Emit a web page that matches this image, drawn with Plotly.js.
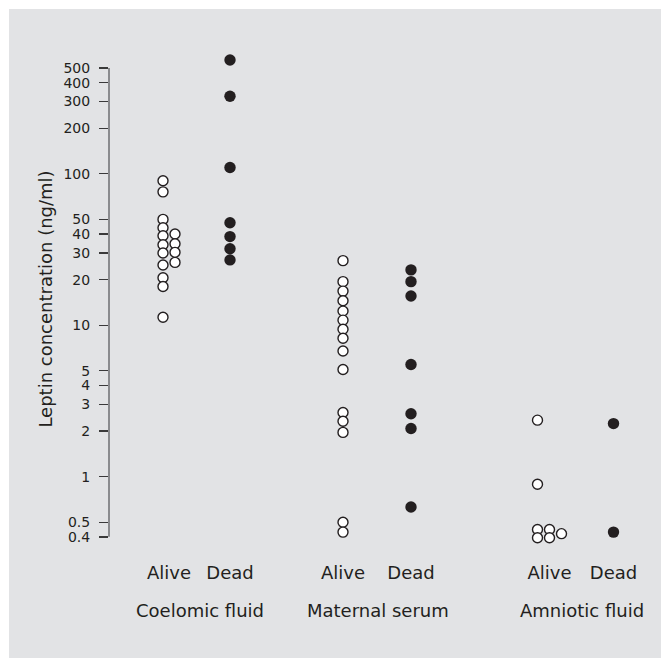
<!DOCTYPE html>
<html>
<head>
<meta charset="utf-8">
<script src="https://cdn.plot.ly/plotly-3.0.1.min.js"></script>
<style>
  html, body { margin: 0; padding: 0; background: #ffffff; width: 661px; height: 658px; overflow: hidden; }
  #chart { position: absolute; left: 9px; top: 9px; width: 652px; height: 649px; }
</style>
</head>
<body>
<div id="chart"></div>
<script>
// ---- Data ----
const fluids = ["Coelomic fluid", "Maternal serum", "Amniotic fluid"];
const outcomes = ["Alive", "Dead"];

const coelomicAlive    = [90, 76, 50, 44, 39, 34, 30, 25, 20.6, 18, 11.3, 40, 34.5, 30.3, 26];
const coelomicAliveCol = [-0.5, -0.5, -0.5, -0.5, -0.5, -0.5, -0.5, -0.5, -0.5, -0.5, -0.5, 0.5, 0.5, 0.5, 0.5];
const coelomicDead     = [565, 325, 110, 47.5, 38.5, 32, 27];

const maternalAlive    = [26.7, 19.4, 16.8, 14.5, 12.4, 10.8, 9.4, 8.2, 6.75, 5.1, 2.65, 2.32, 1.96, 0.5, 0.43];
const maternalDead     = [23.2, 19.4, 15.6, 5.5, 2.6, 2.08, 0.63];

const amnioticAlive    = [2.36, 0.89, 0.447, 0.395, 0.447, 0.395, 0.42];
const amnioticAliveCol = [-1, -1, -1, -1, 0, 0, 1];
const amnioticDead     = [2.24, 0.43];

const yTickVals = [0.4, 0.5, 1, 2, 3, 4, 5, 10, 20, 30, 40, 50, 100, 200, 300, 400, 500];
const yTickText = ["0.4", "0.5", "1", "2", "3", "4", "5", "10", "20", "30", "40", "50", "100", "200", "300", "400", "500"];
const axisMin = 0.4, axisMax = 500;

// ---- Layout positions (horizontal slots) ----
const slotPos = [[169, 230], [343, 411], [549.5, 613.5]];
const groupLabelPos = [199.7, 377.5, 582];
const colSpacing = 12;

const ink = "#231f20";
const bg = "#e2e3e5";
const font = "DejaVu Sans, Liberation Sans, Arial, sans-serif";

function xs(slot, values, cols) {
  return values.map((v, i) => slot + (cols ? cols[i] : 0) * colSpacing);
}

const series = [
  {vals: coelomicAlive, cols: coelomicAliveCol, g: 0, o: 0},
  {vals: coelomicDead,  cols: null,             g: 0, o: 1},
  {vals: maternalAlive, cols: null,             g: 1, o: 0},
  {vals: maternalDead,  cols: null,             g: 1, o: 1},
  {vals: amnioticAlive, cols: amnioticAliveCol, g: 2, o: 0},
  {vals: amnioticDead,  cols: null,             g: 2, o: 1}
];

const traces = series.map(s => {
  const alive = s.o === 0;
  return {
    type: "scatter",
    mode: "markers",
    x: xs(slotPos[s.g][s.o], s.vals, s.cols),
    y: s.vals,
    cliponaxis: false,
    hoverinfo: "y",
    name: fluids[s.g] + " " + outcomes[s.o],
    marker: alive
      ? {symbol: "circle", size: 10, color: "#ffffff", line: {color: ink, width: 1.4}}
      : {symbol: "circle", size: 11.4, color: ink, line: {color: ink, width: 0}}
  };
});

const tickVals = [], tickText = [];
slotPos.forEach(pair => pair.forEach((p, j) => { tickVals.push(p); tickText.push(outcomes[j]); }));

const layout = {
  width: 652,
  height: 649,
  margin: {l: 100, r: 0, t: 47.3, b: 116.2, pad: 0},
  paper_bgcolor: bg,
  plot_bgcolor: bg,
  showlegend: false,
  font: {family: font, color: ink, size: 18},
  xaxis: {
    range: [109, 661],
    showgrid: false,
    zeroline: false,
    showline: false,
    ticks: "",
    tickvals: tickVals,
    ticktext: tickText,
    tickfont: {family: font, size: 18, color: ink},
    ticklabelstandoff: 18,
    fixedrange: true
  },
  yaxis: {
    type: "log",
    range: [Math.log10(0.37), Math.log10(600)],
    showgrid: false,
    zeroline: false,
    showline: false,
    ticks: "outside",
    ticklen: 9,
    tickwidth: 1.3,
    tickcolor: "#3a3a3a",
    tickvals: yTickVals,
    ticktext: yTickText,
    tickfont: {family: font, size: 14, color: ink},
    ticklabelstandoff: 6,
    title: {text: "Leptin concentration (ng/ml)", font: {family: font, size: 18, color: ink}, standoff: 6},
    fixedrange: true
  },
  shapes: [{
    type: "line",
    xref: "paper", x0: 0, x1: 0,
    yref: "y", y0: axisMin, y1: axisMax,
    line: {color: "#6d6e71", width: 1.5},
    layer: "below"
  }],
  annotations: fluids.map((f, i) => ({
    text: f,
    x: groupLabelPos[i],
    xref: "x",
    y: 0,
    yref: "paper",
    yanchor: "middle",
    xanchor: "center",
    yshift: -68,
    showarrow: false,
    font: {family: font, size: 18, color: ink}
  }))
};

Plotly.newPlot("chart", traces, layout, {displayModeBar: false, staticPlot: true});
</script>
</body>
</html>
